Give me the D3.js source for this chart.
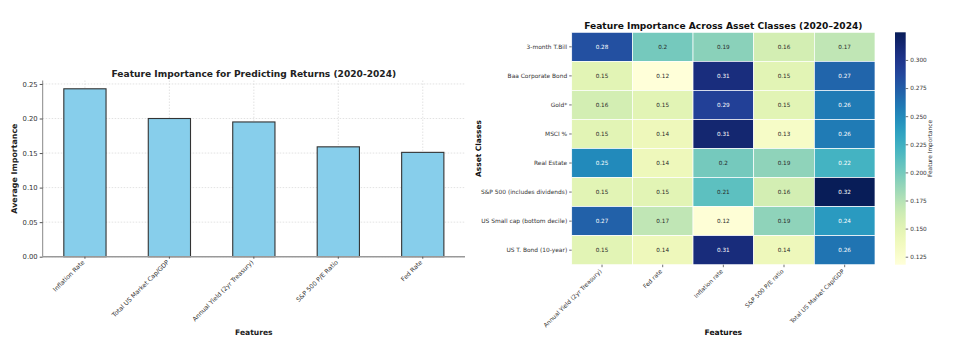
<!DOCTYPE html>
<html><head><meta charset="utf-8">
<script src="https://cdn.jsdelivr.net/npm/d3@7"></script>
<style>
html,body{margin:0;padding:0;background:#fff;}
text{font-family:"DejaVu Sans",sans-serif;}
</style></head>
<body>
<svg id="c" width="975" height="360"></svg>
<script>
// ---- Data: bar chart ----
const barFeatures = ["Inflation Rate","Total US Market Cap/GDP","Annual Yield (2yr Treasury)","S&P 500 P/E Ratio","Fed Rate"];
const barValues = [0.243, 0.200, 0.195, 0.159, 0.151];
const barTicks = [0.00, 0.05, 0.10, 0.15, 0.20, 0.25];

// ---- Data: heatmap ----
const heatFeatures = ["Annual Yield (2yr Treasury)","Fed rate","Inflation rate","S&P 500 P/E ratio","Total US Market Cap/GDP"];
const assetClasses = ["3-month T.Bill","Baa Corporate Bond","Gold*","MSCI %","Real Estate","S&P 500 (includes dividends)","US Small cap (bottom decile)","US T. Bond (10-year)"];
const heatValues = [
  [0.282, 0.200, 0.192, 0.160, 0.170],
  [0.150, 0.118, 0.308, 0.150, 0.270],
  [0.160, 0.150, 0.292, 0.150, 0.258],
  [0.150, 0.140, 0.314, 0.130, 0.258],
  [0.250, 0.140, 0.200, 0.190, 0.222],
  [0.150, 0.150, 0.210, 0.160, 0.3246],
  [0.272, 0.170, 0.120, 0.190, 0.240],
  [0.150, 0.140, 0.309, 0.140, 0.262]
];
const colorDomain = [0.1179, 0.3246];
const colorTicks = [0.125, 0.150, 0.175, 0.200, 0.225, 0.250, 0.275, 0.300];

const svg = d3.select("#c");

// ================= Bar chart =================
const L = {x0: 42.7, x1: 465, yTop: 80.5, y0: 256.7};
const xb = d3.scaleBand().domain(barFeatures).range([L.x0, L.x1]).paddingInner(0.5).paddingOuter(0.25);
const yb = d3.scaleLinear().domain([0, 0.255]).range([L.y0, L.yTop]);
const gL = svg.append("g");

// grid
gL.selectAll("line.hg").data(barTicks).join("line")
  .attr("x1", L.x0).attr("x2", L.x1).attr("y1", d => yb(d)).attr("y2", d => yb(d))
  .attr("stroke", "#cfcfcf").attr("stroke-width", 0.6).attr("stroke-dasharray", "1.5,1.5");
gL.selectAll("line.vg").data(barFeatures).join("line")
  .attr("x1", d => xb(d) + xb.bandwidth()/2).attr("x2", d => xb(d) + xb.bandwidth()/2)
  .attr("y1", L.yTop).attr("y2", L.y0)
  .attr("stroke", "#cfcfcf").attr("stroke-width", 0.6).attr("stroke-dasharray", "1.5,1.5");

// bars
gL.selectAll("rect.bar").data(barValues).join("rect")
  .attr("x", (d, i) => xb(barFeatures[i])).attr("width", xb.bandwidth())
  .attr("y", d => yb(d)).attr("height", d => L.y0 - yb(d))
  .attr("fill", "#87ceeb").attr("stroke", "#333").attr("stroke-width", 1.1);

// y axis
const yAxis = d3.axisLeft(yb).tickValues(barTicks).tickFormat(d3.format(".2f")).tickSize(3).tickPadding(2);
const gy = gL.append("g").attr("transform", `translate(${L.x0},0)`).call(yAxis);
gy.select(".domain").attr("stroke", "#888").attr("stroke-width", 1).attr("d", `M0,${L.yTop}V${L.y0}`);
gy.selectAll(".tick line").attr("stroke", "#555");
gy.selectAll(".tick text").attr("font-size", 6.8).attr("fill", "#333").attr("font-family", "DejaVu Sans");

// x axis
const xAxis = d3.axisBottom(xb).tickSize(2).tickPadding(2);
const gx = gL.append("g").attr("transform", `translate(0,${L.y0})`).call(xAxis);
gx.select(".domain").attr("stroke", "#999").attr("stroke-width", 1.4).attr("d", `M${L.x0},0H${L.x1}`);
gx.selectAll(".tick line").attr("stroke", "#555");
gx.selectAll(".tick text").attr("font-size", 6.2).attr("fill", "#333").attr("font-family", "DejaVu Sans")
  .attr("text-anchor", "end").attr("dy", 0).attr("y", 0)
  .attr("transform", "translate(0,6) rotate(-45)");

gL.append("text").attr("x", (L.x0 + L.x1)/2).attr("y", 76.5).attr("text-anchor", "middle")
  .attr("font-size", 9.1).attr("font-weight", "bold").attr("fill", "#222")
  .text("Feature Importance for Predicting Returns (2020-2024)");
gL.append("text").attr("transform", `translate(17,${(L.yTop + L.y0)/2}) rotate(-90)`).attr("text-anchor", "middle")
  .attr("font-size", 7.9).attr("font-weight", "bold").attr("fill", "#222").text("Average Importance");
gL.append("text").attr("x", (L.x0 + L.x1)/2).attr("y", 334.5).attr("text-anchor", "middle")
  .attr("font-size", 7.6).attr("font-weight", "bold").attr("fill", "#222").text("Features");

// ================= Heatmap =================
const H = {x0: 571.7, x1: 875, y0: 32.3, y1: 264.7};
const xh = d3.scaleBand().domain(heatFeatures).range([H.x0, H.x1]);
const yh = d3.scaleBand().domain(assetClasses).range([H.y0, H.y1]);
const color = d3.scaleSequential(d3.interpolateYlGnBu).domain(colorDomain);
const gH = svg.append("g");

const cells = [];
heatValues.forEach((row, r) => row.forEach((v, c) => cells.push({r, c, v})));

gH.selectAll("rect.cell").data(cells).join("rect")
  .attr("x", d => xh(heatFeatures[d.c])).attr("y", d => yh(assetClasses[d.r]))
  .attr("width", xh.bandwidth()).attr("height", yh.bandwidth())
  .attr("fill", d => color(d.v)).attr("stroke", "#fff").attr("stroke-width", 0.7);

function lum(c) {
  const rgb = d3.rgb(c);
  const f = x => { x /= 255; return x <= 0.03928 ? x / 12.92 : Math.pow((x + 0.055) / 1.055, 2.4); };
  return 0.2126 * f(rgb.r) + 0.7152 * f(rgb.g) + 0.0722 * f(rgb.b);
}
const fmt = d3.format(".2");
gH.selectAll("text.ann").data(cells).join("text")
  .attr("x", d => xh(heatFeatures[d.c]) + xh.bandwidth()/2)
  .attr("y", d => yh(assetClasses[d.r]) + yh.bandwidth()/2)
  .attr("dy", "0.35em").attr("text-anchor", "middle").attr("font-size", 5.7)
  .attr("fill", d => lum(color(d.v)) > 0.408 ? "#262626" : "#ffffff")
  .text(d => fmt(d.v));

const hyAxis = d3.axisLeft(yh).tickSize(2.5).tickPadding(2);
const ghy = gH.append("g").attr("transform", `translate(${H.x0},0)`).call(hyAxis);
ghy.select(".domain").remove();
ghy.selectAll(".tick line").attr("stroke", "#333").attr("stroke-width", 0.7);
ghy.selectAll(".tick text").attr("font-size", 5.9).attr("fill", "#333").attr("font-family", "DejaVu Sans");

const hxAxis = d3.axisBottom(xh).tickSize(2.5).tickPadding(2);
const ghx = gH.append("g").attr("transform", `translate(0,${H.y1})`).call(hxAxis);
ghx.select(".domain").remove();
ghx.selectAll(".tick line").attr("stroke", "#333").attr("stroke-width", 0.7);
ghx.selectAll(".tick text").attr("font-size", 5.9).attr("fill", "#333").attr("font-family", "DejaVu Sans")
  .attr("text-anchor", "end").attr("dy", 0).attr("y", 0)
  .attr("transform", "translate(0,7) rotate(-45)");

gH.append("text").attr("x", (H.x0 + H.x1)/2).attr("y", 29).attr("text-anchor", "middle")
  .attr("font-size", 9.1).attr("font-weight", "bold").attr("fill", "#111")
  .text("Feature Importance Across Asset Classes (2020–2024)");
gH.append("text").attr("transform", `translate(481,${(H.y0 + H.y1)/2}) rotate(-90)`).attr("text-anchor", "middle")
  .attr("font-size", 7.4).attr("font-weight", "bold").attr("fill", "#111").text("Asset Classes");
gH.append("text").attr("x", (H.x0 + H.x1)/2).attr("y", 334.5).attr("text-anchor", "middle")
  .attr("font-size", 7.6).attr("font-weight", "bold").attr("fill", "#111").text("Features");

// colorbar
const C = {x0: 895, x1: 905.7};
const yc = d3.scaleLinear().domain(colorDomain).range([H.y1, H.y0]);
const defs = svg.append("defs");
const grad = defs.append("linearGradient").attr("id", "cbg").attr("x1", 0).attr("x2", 0).attr("y1", 1).attr("y2", 0);
d3.range(0, 1.0001, 0.02).forEach(t => {
  grad.append("stop").attr("offset", t).attr("stop-color", color(colorDomain[0] + t * (colorDomain[1] - colorDomain[0])));
});
gH.append("rect").attr("x", C.x0).attr("y", H.y0).attr("width", C.x1 - C.x0).attr("height", H.y1 - H.y0)
  .attr("fill", "url(#cbg)");
const cAxis = d3.axisRight(yc).tickValues(colorTicks).tickFormat(d3.format(".3f")).tickSize(2.5).tickPadding(2);
const gc = gH.append("g").attr("transform", `translate(${C.x1},0)`).call(cAxis);
gc.select(".domain").remove();
gc.selectAll(".tick line").attr("stroke", "#333").attr("stroke-width", 0.7);
gc.selectAll(".tick text").attr("font-size", 5.8).attr("fill", "#333").attr("font-family", "DejaVu Sans");
gH.append("text").attr("transform", `translate(932,${(H.y0 + H.y1)/2}) rotate(-90)`).attr("text-anchor", "middle")
  .attr("font-size", 5.8).attr("fill", "#333").text("Feature Importance");
</script>
</body></html>
